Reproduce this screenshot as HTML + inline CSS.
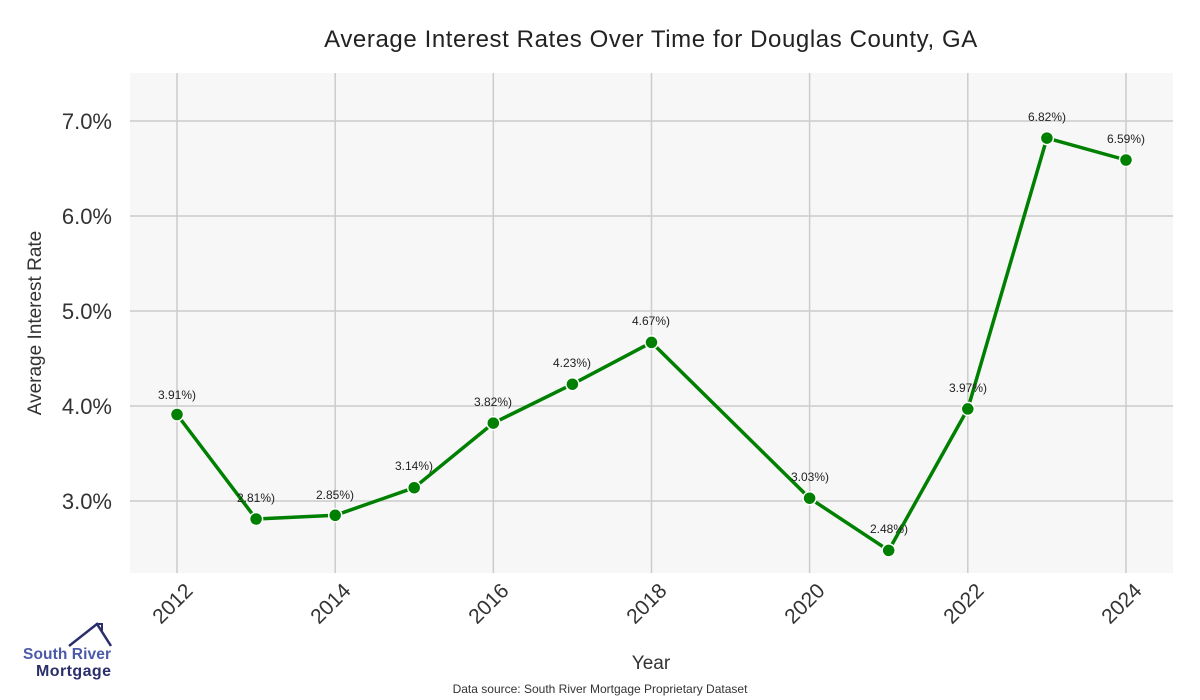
<!DOCTYPE html>
<html><head><meta charset="utf-8"><style>body{margin:0;background:#fff}svg{display:block}</style></head><body>
<svg width="1200" height="700" xmlns="http://www.w3.org/2000/svg" font-family="Liberation Sans, sans-serif">
<rect x="130" y="73" width="1043" height="500" fill="#f7f7f7"/>
<g stroke="#cccccc" stroke-width="1.5">
<line x1="130" x2="1173" y1="121" y2="121"/><line x1="130" x2="1173" y1="216" y2="216"/><line x1="130" x2="1173" y1="311" y2="311"/><line x1="130" x2="1173" y1="406" y2="406"/><line x1="130" x2="1173" y1="501" y2="501"/>
<line y1="73" y2="573" x1="177" x2="177"/><line y1="73" y2="573" x1="335.2" x2="335.2"/><line y1="73" y2="573" x1="493.3" x2="493.3"/><line y1="73" y2="573" x1="651.5" x2="651.5"/><line y1="73" y2="573" x1="809.6" x2="809.6"/><line y1="73" y2="573" x1="967.8" x2="967.8"/><line y1="73" y2="573" x1="1126" x2="1126"/>
</g>
<text x="651" y="47" text-anchor="middle" font-size="24" letter-spacing="0.6" fill="#222">Average Interest Rates Over Time for Douglas County, GA</text>
<g font-size="22" fill="#333" text-anchor="end">
<text x="112" y="129">7.0%</text><text x="112" y="224">6.0%</text><text x="112" y="319">5.0%</text><text x="112" y="414">4.0%</text><text x="112" y="509">3.0%</text>
</g>
<text transform="translate(41,323) rotate(-90)" text-anchor="middle" font-size="19" fill="#333">Average Interest Rate</text>
<g font-size="21" fill="#333" text-anchor="end">
<text transform="translate(194,592) rotate(-45)">2012</text>
<text transform="translate(352,592) rotate(-45)">2014</text>
<text transform="translate(510,592) rotate(-45)">2016</text>
<text transform="translate(668,592) rotate(-45)">2018</text>
<text transform="translate(826,592) rotate(-45)">2020</text>
<text transform="translate(985,592) rotate(-45)">2022</text>
<text transform="translate(1143,592) rotate(-45)">2024</text>
</g>
<text x="651" y="669" text-anchor="middle" font-size="19" fill="#333">Year</text>
<text x="600" y="693" text-anchor="middle" font-size="12" fill="#333">Data source: South River Mortgage Proprietary Dataset</text>
<polyline fill="none" stroke="#008000" stroke-width="3.5" stroke-linejoin="round" points="177,414.5 256.1,519 335.2,515.3 414.2,487.7 493.3,423.1 572.4,384.2 651.5,342.4 809.6,498.2 888.7,550.4 967.8,408.9 1046.9,138.1 1126,160"/>
<g fill="#008000" stroke="#fff" stroke-width="1.5">
<circle cx="177" cy="414.5" r="6.5"/><circle cx="256.1" cy="519" r="6.5"/><circle cx="335.2" cy="515.3" r="6.5"/><circle cx="414.2" cy="487.7" r="6.5"/><circle cx="493.3" cy="423.1" r="6.5"/><circle cx="572.4" cy="384.2" r="6.5"/><circle cx="651.5" cy="342.4" r="6.5"/><circle cx="809.6" cy="498.2" r="6.5"/><circle cx="888.7" cy="550.4" r="6.5"/><circle cx="967.8" cy="408.9" r="6.5"/><circle cx="1046.9" cy="138.1" r="6.5"/><circle cx="1126" cy="160" r="6.5"/>
</g>
<g font-size="12" fill="#222" text-anchor="middle">
<text x="177" y="399">3.91%)</text><text x="256" y="502">2.81%)</text><text x="335" y="499">2.85%)</text><text x="414" y="470">3.14%)</text><text x="493" y="406">3.82%)</text><text x="572" y="367">4.23%)</text><text x="651" y="325">4.67%)</text><text x="810" y="481">3.03%)</text><text x="889" y="533">2.48%)</text><text x="968" y="392">3.97%)</text><text x="1047" y="121">6.82%)</text><text x="1126" y="143">6.59%)</text>
</g>
<g>
<polyline points="69,646 97,624 111,646" fill="none" stroke="#2a2f6b" stroke-width="2.5"/>
<polyline points="97,624 102,624 102,632" fill="none" stroke="#2a2f6b" stroke-width="2"/>
<text x="23" y="659" font-size="15.5" font-weight="bold" fill="#4a5aa8" textLength="88">South River</text>
<text x="36" y="676" font-size="16" font-weight="bold" fill="#2a2f6b" textLength="75">Mortgage</text>
</g>
</svg>
</body></html>
